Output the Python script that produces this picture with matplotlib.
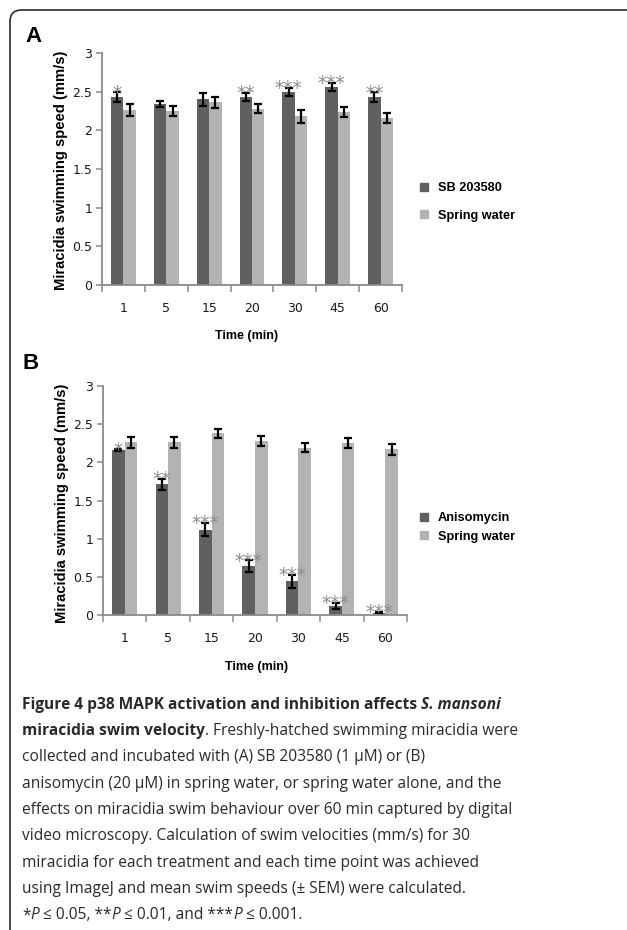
import matplotlib
matplotlib.use("Agg")
import matplotlib.pyplot as plt
from matplotlib.patches import Patch, FancyBboxPatch
from matplotlib.font_manager import FontProperties
import numpy as np

# data
times = ["1", "5", "15", "20", "30", "45", "60"]

sb_mean = [2.43, 2.34, 2.40, 2.43, 2.50, 2.56, 2.43]
sb_sem = [0.06, 0.04, 0.085, 0.05, 0.05, 0.05, 0.06]
sb_water_mean = [2.26, 2.25, 2.36, 2.28, 2.18, 2.24, 2.16]
sb_water_sem = [0.08, 0.065, 0.07, 0.06, 0.08, 0.065, 0.07]
sb_stars = ["*", "", "", "**", "***", "***", "**"]

an_mean = [2.16, 1.71, 1.12, 0.64, 0.44, 0.12, 0.03]
an_sem = [0.01, 0.075, 0.09, 0.075, 0.085, 0.035, 0.01]
an_water_mean = [2.26, 2.26, 2.38, 2.28, 2.19, 2.25, 2.17]
an_water_sem = [0.07, 0.07, 0.055, 0.065, 0.06, 0.065, 0.07]
an_stars = ["*", "**", "***", "***", "***", "***", "***"]

yticks = [0, 0.5, 1, 1.5, 2, 2.5, 3]
ytick_labels = ["0", "0.5", "1", "1.5", "2", "2.5", "3"]

DARK = "#606060"
LIGHT = "#b3b3b3"
SPINE = "#8a8a8a"
BOLD = "Liberation Sans"

W, H = 627, 930
fig = plt.figure(figsize=(W / 100, H / 100), dpi=100)


def fx(px):
    return px / W


def fy(py):
    return 1 - py / H


def panel(box, treat, treat_err, water, water_err, stars, names, leg_y, leg_space):
    left, top, right, bottom = box
    ax = fig.add_axes([fx(left), fy(bottom), fx(right - left), (bottom - top) / H])
    x = np.arange(len(times))
    w = 0.29
    ekw = dict(elinewidth=1.6, capthick=1.6, capsize=3, ecolor="black")
    ax.bar(x - w / 2, treat, w, color=DARK, yerr=treat_err, error_kw=ekw, zorder=2)
    ax.bar(x + w / 2, water, w, color=LIGHT, yerr=water_err, error_kw=ekw, zorder=2)
    for xi, m, e, s in zip(x, treat, treat_err, stars):
        if s:
            ax.annotate(s, (xi - w / 2, m + e), xytext=(0, -4.5), textcoords="offset points",
                        ha="center", va="baseline", fontsize=13.5, color="#8c8c8c",
                        family="DejaVu Sans", zorder=3)
    ax.set_xlim(-0.5, 6.5)
    ax.set_ylim(0, 3)
    ax.set_xticks(np.arange(-0.5, 7, 1))
    ax.set_xticklabels([])
    ax.set_xticks(x, minor=True)
    ax.set_xticklabels(times, minor=True)
    ax.tick_params(axis="x", which="minor", length=0, pad=12, labelsize=9, labelcolor="#1a1a1a")
    ax.tick_params(axis="x", which="major", length=5, width=1.1, color=SPINE)
    ax.set_yticks(yticks)
    ax.set_yticklabels(ytick_labels)
    ax.tick_params(axis="y", length=4, width=1.1, color=SPINE, pad=3, labelsize=9,
                   labelcolor="#1a1a1a")
    for sp in ["top", "right"]:
        ax.spines[sp].set_visible(False)
    for sp in ["left", "bottom"]:
        ax.spines[sp].set_color(SPINE)
        ax.spines[sp].set_linewidth(1.3)
    handles = [Patch(color=DARK), Patch(color=LIGHT)]
    fig.legend(handles, names, loc="center left", bbox_to_anchor=(fx(420), fy(leg_y)),
               frameon=False, handlelength=0.6, handleheight=0.6, handletextpad=0.8,
               labelspacing=leg_space, borderpad=0, borderaxespad=0,
               prop=dict(family=BOLD, weight="bold", size=9.2))
    return ax


panel((102, 53, 402, 285), sb_mean, sb_sem, sb_water_mean, sb_water_sem, sb_stars,
      ["SB 203580", "Spring water"], 202, 1.2)
panel((103, 386, 407, 615), an_mean, an_sem, an_water_mean, an_water_sem, an_stars,
      ["Anisomycin", "Spring water"], 527.5, 0.5)

ylab = "Miracidia swimming speed (mm/s)"
fig.text(fx(61), fy(170), ylab, rotation=90, ha="center", va="center",
         family=BOLD, weight="bold", fontsize=10.6)
fig.text(fx(62), fy(503), ylab, rotation=90, ha="center", va="center",
         family=BOLD, weight="bold", fontsize=10.6)
fig.text(fx(247), fy(336), "Time (min)", ha="center", va="center",
         family=BOLD, weight="bold", fontsize=9)
fig.text(fx(257), fy(667), "Time (min)", ha="center", va="center",
         family=BOLD, weight="bold", fontsize=9)
fig.text(fx(25), fy(37), "A", ha="left", va="center", family=BOLD, weight="bold", fontsize=16)
fig.text(fx(23), fy(363), "B", ha="left", va="center", family=BOLD, weight="bold", fontsize=16)

# rounded frame along the top and left
frame = FancyBboxPatch((fx(10), -0.2), 1.2, fy(10) + 0.2,
                       boxstyle="round,pad=0,rounding_size=0.018",
                       mutation_aspect=W / H, transform=fig.transFigure,
                       fill=False, edgecolor="#3a3a3a", linewidth=1.3)
fig.add_artist(frame)

# caption with mixed bold / italic pieces
CAP = ["Open Sans", "DejaVu Sans"]
caption = [
    [("Figure 4 p38 MAPK activation and inhibition affects ", "bold", "normal"),
     ("S. mansoni", "bold", "italic")],
    [("miracidia swim velocity", "bold", "normal"),
     (". Freshly-hatched swimming miracidia were", "normal", "normal")],
    [("collected and incubated with (A) SB 203580 (1 \u03bcM) or (B)", "normal", "normal")],
    [("anisomycin (20 \u03bcM) in spring water, or spring water alone, and the", "normal", "normal")],
    [("effects on miracidia swim behaviour over 60 min captured by digital", "normal", "normal")],
    [("video microscopy. Calculation of swim velocities (mm/s) for 30", "normal", "normal")],
    [("miracidia for each treatment and each time point was achieved", "normal", "normal")],
    [("using ImageJ and mean swim speeds (\u00b1 SEM) were calculated.", "normal", "normal")],
    [("*", "normal", "normal"), ("P", "normal", "italic"),
     (" \u2264 0.05, **", "normal", "normal"), ("P", "normal", "italic"),
     (" \u2264 0.01, and ***", "normal", "normal"), ("P", "normal", "italic"),
     (" \u2264 0.001.", "normal", "normal")],
]

renderer = fig.canvas.get_renderer()


def text_width(s, size, weight, style):
    # advance width in pixels, trailing spaces included
    fp = FontProperties(family=CAP, size=size, weight=weight, style=style)
    bar = renderer.get_text_width_height_descent("|", fp, ismath=False)[0]
    full = renderer.get_text_width_height_descent(s + "|", fp, ismath=False)[0]
    return full - bar


# size chosen so the widest plain line spans the column
probe = caption[4][0][0]
cap_size = 10 * 491 / text_width(probe, 10, "normal", "normal")

for i, parts in enumerate(caption):
    x = 22
    y = 708.5 + 26.35 * i
    for s, weight, style in parts:
        fig.text(fx(x), fy(y), s, ha="left", va="baseline", family=CAP,
                 fontsize=cap_size, weight=weight, style=style, color="#2a2a2a")
        x += text_width(s, cap_size, weight, style)

fig.savefig("out.png", dpi=100)
